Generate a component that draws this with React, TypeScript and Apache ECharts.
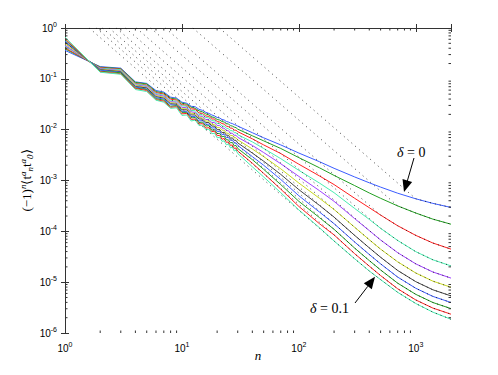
import React, { useEffect, useRef } from 'react';
import * as echarts from 'echarts';

// separations n
const nValues = [1, 2, 3, 4, 5, 6, 7, 8, 9, 10, 11, 12, 13, 14, 15, 16, 17, 18, 19, 20,
  21, 22, 23, 24, 25, 26, 27, 28, 29, 30,
  40, 50, 70, 100, 150, 200, 300, 400, 500, 700, 1000, 1400, 2000];

// log10 of (-1)^n <t_n t_0>, one array per delta
const delta000 = [-0.44, -0.76, -0.79, -1.06, -1.09, -1.23, -1.26, -1.36, -1.38, -1.46, -1.48, -1.54, -1.55, -1.60, -1.62, -1.66, -1.68, -1.71, -1.73, -1.76,
  -1.77, -1.80, -1.81, -1.84, -1.85, -1.87, -1.88, -1.90, -1.91, -1.93,
  -2.06, -2.16, -2.30, -2.46, -2.63, -2.76, -2.93, -3.045, -3.13, -3.25, -3.36, -3.45, -3.53];
const delta001 = [-0.41, -0.77, -0.80, -1.07, -1.10, -1.25, -1.28, -1.38, -1.40, -1.48, -1.50, -1.56, -1.58, -1.63, -1.65, -1.69, -1.71, -1.75, -1.76, -1.80,
  -1.81, -1.84, -1.85, -1.88, -1.89, -1.92, -1.93, -1.95, -1.96, -1.99,
  -2.12, -2.22, -2.37, -2.55, -2.75, -2.90, -3.10, -3.245, -3.35, -3.50, -3.64, -3.76, -3.86];
const delta002 = [-0.39, -0.78, -0.81, -1.09, -1.12, -1.27, -1.30, -1.40, -1.42, -1.51, -1.52, -1.59, -1.60, -1.67, -1.68, -1.73, -1.74, -1.79, -1.79, -1.84,
  -1.85, -1.88, -1.89, -1.93, -1.94, -1.97, -1.97, -2.01, -2.01, -2.04,
  -2.18, -2.30, -2.47, -2.68, -2.91, -3.08, -3.35, -3.535, -3.68, -3.89, -4.08, -4.23, -4.35];
const delta003 = [-0.36, -0.79, -0.82, -1.10, -1.13, -1.29, -1.32, -1.43, -1.44, -1.53, -1.54, -1.62, -1.63, -1.70, -1.71, -1.76, -1.77, -1.82, -1.83, -1.88,
  -1.88, -1.93, -1.93, -1.97, -1.98, -2.02, -2.02, -2.06, -2.06, -2.10,
  -2.24, -2.37, -2.57, -2.80, -3.05, -3.24, -3.55, -3.765, -3.94, -4.18, -4.40, -4.56, -4.68];
const delta004 = [-0.34, -0.80, -0.84, -1.12, -1.15, -1.31, -1.34, -1.45, -1.46, -1.56, -1.57, -1.65, -1.66, -1.73, -1.74, -1.80, -1.80, -1.86, -1.86, -1.92,
  -1.92, -1.97, -1.97, -2.02, -2.02, -2.07, -2.07, -2.11, -2.11, -2.15,
  -2.31, -2.45, -2.67, -2.92, -3.20, -3.41, -3.75, -3.985, -4.17, -4.42, -4.64, -4.80, -4.92];
const delta005 = [-0.31, -0.81, -0.85, -1.13, -1.17, -1.33, -1.36, -1.47, -1.48, -1.59, -1.59, -1.68, -1.68, -1.76, -1.77, -1.83, -1.83, -1.90, -1.90, -1.96,
  -1.96, -2.01, -2.01, -2.07, -2.07, -2.12, -2.11, -2.16, -2.16, -2.20,
  -2.38, -2.53, -2.77, -3.05, -3.35, -3.57, -3.92, -4.165, -4.35, -4.60, -4.82, -4.98, -5.10];
const delta006 = [-0.28, -0.82, -0.86, -1.15, -1.18, -1.35, -1.38, -1.49, -1.50, -1.61, -1.61, -1.71, -1.71, -1.79, -1.79, -1.86, -1.86, -1.93, -1.93, -2.00,
  -2.00, -2.06, -2.05, -2.11, -2.11, -2.17, -2.16, -2.21, -2.21, -2.26,
  -2.46, -2.62, -2.88, -3.18, -3.49, -3.72, -4.08, -4.325, -4.51, -4.77, -4.99, -5.15, -5.27];
const delta007 = [-0.26, -0.83, -0.87, -1.16, -1.20, -1.37, -1.40, -1.51, -1.52, -1.64, -1.64, -1.74, -1.74, -1.83, -1.82, -1.90, -1.89, -1.97, -1.96, -2.04,
  -2.03, -2.10, -2.09, -2.16, -2.15, -2.21, -2.20, -2.26, -2.26, -2.31,
  -2.53, -2.70, -2.98, -3.30, -3.62, -3.85, -4.21, -4.455, -4.64, -4.90, -5.12, -5.28, -5.40];
const delta008 = [-0.23, -0.85, -0.88, -1.18, -1.21, -1.39, -1.42, -1.54, -1.53, -1.66, -1.66, -1.77, -1.76, -1.86, -1.85, -1.93, -1.92, -2.01, -2.00, -2.08,
  -2.07, -2.14, -2.13, -2.20, -2.20, -2.26, -2.25, -2.32, -2.31, -2.37,
  -2.59, -2.78, -3.08, -3.41, -3.73, -3.96, -4.33, -4.575, -4.76, -5.02, -5.24, -5.40, -5.52];
const delta009 = [-0.21, -0.86, -0.90, -1.19, -1.23, -1.41, -1.44, -1.56, -1.55, -1.69, -1.68, -1.80, -1.79, -1.89, -1.88, -1.97, -1.96, -2.04, -2.03, -2.12,
  -2.11, -2.19, -2.17, -2.25, -2.24, -2.31, -2.30, -2.37, -2.36, -2.42,
  -2.66, -2.86, -3.17, -3.51, -3.85, -4.07, -4.44, -4.685, -4.87, -5.13, -5.35, -5.51, -5.63];
const delta010 = [-0.18, -0.87, -0.91, -1.21, -1.25, -1.42, -1.46, -1.58, -1.57, -1.72, -1.71, -1.83, -1.81, -1.92, -1.91, -2.00, -1.99, -2.08, -2.07, -2.16,
  -2.15, -2.23, -2.22, -2.30, -2.28, -2.36, -2.34, -2.42, -2.40, -2.47,
  -2.73, -2.93, -3.24, -3.58, -3.93, -4.19, -4.54, -4.78, -4.95, -5.20, -5.42, -5.59, -5.73];

const seriesValues = [delta000, delta001, delta002, delta003, delta004, delta005, delta006, delta007, delta008, delta009, delta010];
const seriesNames = ['δ=0', 'δ=0.01', 'δ=0.02', 'δ=0.03', 'δ=0.04', 'δ=0.05', 'δ=0.06', 'δ=0.07', 'δ=0.08', 'δ=0.09', 'δ=0.1'];
const palette = ['#3a5cff', '#22a022', '#ff2020', '#48eeb0', '#a040ff', '#c8d820', '#444444'];

// dotted asymptotic fits: value 1 at n = fitTopN, then join each curve from n = fitJoinN onward
const fitTopN = [20.9, 12.4, 7.2, 5.4, 4.07, 3.29, 2.74, 2.38, 2.09, 1.85, 1.61];
const fitJoinN = [1000, 700, 500, 500, 400, 300, 300, 200, 200, 200, 200];

// axis ticks
const xMax = 2000;
const yMajorExp = [-6, -5, -4, -3, -2, -1, 0];
const xMinorN = [2, 3, 4, 5, 6, 7, 8, 9, 20, 30, 40, 50, 60, 70, 80, 90, 200, 300, 400, 500, 600, 700, 800, 900];
const yMinorMant = [2, 3, 4, 5, 6, 7, 8, 9];

const LX = Math.log10;

export default function App() {
  const ref = useRef<HTMLDivElement>(null);
  useEffect(() => {
    if (!ref.current) return;
    const chart = echarts.init(ref.current, null, { renderer: 'svg' });
    const xmax = LX(xMax);
    const labelFmt = (v: number) => {
      const r = Math.round(v);
      if (Math.abs(v - r) > 1e-6) return '';
      return `{b|10}{e|${r}}`;
    };
    const sans = 'Liberation Sans, Arial, sans-serif';
    const serif = 'Liberation Serif, Times New Roman, serif';
    const rich = {
      b: { fontSize: 10, fontFamily: sans, color: '#000' },
      e: { fontSize: 7, fontFamily: sans, color: '#000', padding: [0, 0, 8, 0] },
    };
    const axisLine = { show: true, lineStyle: { color: '#333', width: 1 } };
    const axisTick = { show: true, inside: true, length: 4, lineStyle: { color: '#333', width: 1 } };

    const yMinorVals: number[] = [];
    yMajorExp.slice(0, -1).forEach((e) => yMinorMant.forEach((m) => yMinorVals.push(LX(m) + e)));

    const lineSeries = seriesValues.map((vals, k) => ({
      type: 'line',
      name: seriesNames[k],
      data: nValues.map((n, i) => [LX(n), vals[i]]),
      showSymbol: false,
      symbol: 'none',
      lineStyle: { color: palette[k % palette.length], width: 1 },
      z: 3,
    }));

    const dotSeries = seriesValues.map((vals, k) => {
      const j = nValues.indexOf(fitJoinN[k]);
      const pts: number[][] = [[LX(fitTopN[k]), 0]];
      for (let i = j; i < nValues.length; i++) pts.push([LX(nValues[i]), vals[i]]);
      return {
        type: 'line',
        data: pts,
        showSymbol: false,
        symbol: 'none',
        lineStyle: { color: '#000', width: 1, type: [1, 4], opacity: 0.75 },
        z: 4,
      };
    });

    const minorX = {
      type: 'custom',
      data: xMinorN.map((n) => [LX(n), -6]),
      clip: false,
      z: 5,
      renderItem: (params: any, api: any) => {
        const p = api.coord([api.value(0), api.value(1)]);
        const cs = params.coordSys;
        const style = { stroke: '#333', lineWidth: 1 };
        return {
          type: 'group',
          children: [
            { type: 'line', shape: { x1: p[0], y1: cs.y + cs.height, x2: p[0], y2: cs.y + cs.height - 2.5 }, style },
            { type: 'line', shape: { x1: p[0], y1: cs.y, x2: p[0], y2: cs.y + 2.5 }, style },
          ],
        };
      },
    };
    const minorY = {
      type: 'custom',
      data: yMinorVals.map((v) => [0, v]),
      clip: false,
      z: 5,
      renderItem: (params: any, api: any) => {
        const p = api.coord([api.value(0), api.value(1)]);
        const cs = params.coordSys;
        const style = { stroke: '#333', lineWidth: 1 };
        return {
          type: 'group',
          children: [
            { type: 'line', shape: { x1: cs.x, y1: p[1], x2: cs.x + 2.5, y2: p[1] }, style },
            { type: 'line', shape: { x1: cs.x + cs.width, y1: p[1], x2: cs.x + cs.width - 2.5, y2: p[1] }, style },
          ],
        };
      },
    };

    chart.setOption({
      animation: false,
      backgroundColor: '#fff',
      grid: { left: 65, right: 47, top: 28, bottom: 42, containLabel: false },
      xAxis: [
        {
          type: 'value', min: 0, max: xmax, interval: 1, position: 'bottom',
          axisLine, axisTick, splitLine: { show: false },
          axisLabel: { formatter: labelFmt, rich, margin: 8, showMaxLabel: true },
          name: 'n', nameLocation: 'middle', nameGap: 16, nameMoveOverlap: false,
          nameTextStyle: { fontFamily: serif, fontStyle: 'italic', fontSize: 13, color: '#000' },
        },
        {
          type: 'value', min: 0, max: xmax, interval: 1, position: 'top',
          axisLine, axisTick, splitLine: { show: false }, axisLabel: { show: false },
        },
      ],
      yAxis: [
        {
          type: 'value', min: -6, max: 0, interval: 1, position: 'left',
          axisLine, axisTick, splitLine: { show: false },
          axisLabel: { formatter: labelFmt, rich, margin: 8 },
          name: '(−1){sn|n}⟨t{sa|a}{sb|n}t{sa|a}{sb|0}⟩',
          nameLocation: 'middle', nameGap: 30, nameRotate: 90, nameMoveOverlap: false,
          nameTextStyle: {
            fontFamily: serif, fontSize: 13, color: '#000',
            rich: {
              sn: { fontFamily: serif, fontStyle: 'italic', fontSize: 9, color: '#000', padding: [0, 0, 8, 0] },
              sa: { fontFamily: serif, fontStyle: 'italic', fontSize: 9, color: '#000', padding: [0, 0, 8, 0] },
              sb: { fontFamily: serif, fontStyle: 'italic', fontSize: 9, color: '#000', padding: [6, 0, 0, 0] },
            },
          },
        },
        {
          type: 'value', min: -6, max: 0, interval: 1, position: 'right',
          axisLine, axisTick, splitLine: { show: false }, axisLabel: { show: false },
        },
      ],
      series: [...lineSeries, ...dotSeries, minorX, minorY],
      graphic: [
        {
          type: 'text', left: 397, top: 145,
          style: {
            text: '{i|δ} = 0', fontFamily: serif, fontSize: 14, fill: '#000',
            rich: { i: { fontFamily: serif, fontStyle: 'italic', fontSize: 14, fill: '#000' } },
          },
        },
        { type: 'line', shape: { x1: 414, y1: 158, x2: 407.3, y2: 181 }, style: { stroke: '#000', lineWidth: 1 } },
        { type: 'polygon', shape: { points: [[404, 192], [412.1, 181.9], [402.5, 179.1]] }, style: { fill: '#000' } },
        {
          type: 'text', left: 310, top: 301,
          style: {
            text: '{i|δ} = 0.1', fontFamily: serif, fontSize: 14, fill: '#000',
            rich: { i: { fontFamily: serif, fontStyle: 'italic', fontSize: 14, fill: '#000' } },
          },
        },
        { type: 'line', shape: { x1: 355, y1: 303, x2: 367.8, y2: 286.3 }, style: { stroke: '#000', lineWidth: 1 } },
        { type: 'polygon', shape: { points: [[375, 276.7], [371.8, 289.3], [363.8, 283.3]] }, style: { fill: '#000' } },
      ],
    });
    return () => chart.dispose();
  }, []);
  return <div ref={ref} style={{ width: 498, height: 375, position: 'absolute', left: 0, top: 0 }} />;
}
